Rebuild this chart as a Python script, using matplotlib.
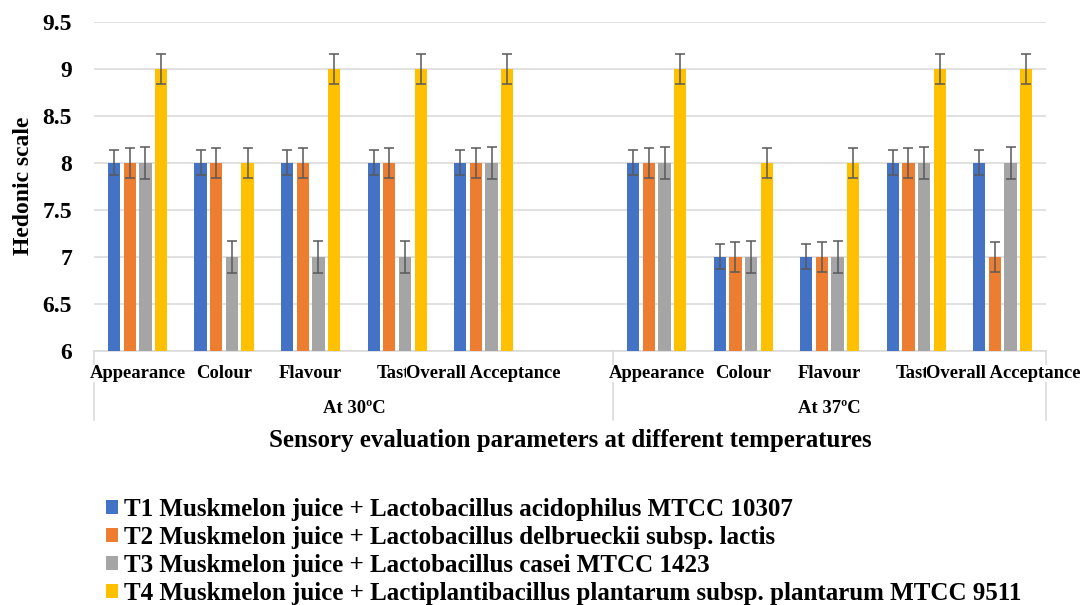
import numpy as np
import matplotlib
matplotlib.use("Agg")
import matplotlib.pyplot as plt
from matplotlib.patches import Patch

plt.rcParams['font.family'] = ['Liberation Serif', 'DejaVu Serif']
plt.rcParams['font.weight'] = 'bold'

# ---- data ----
categories = ["Appearance", "Colour", "Flavour", "Taste", "Overall Acceptance"]
temperatures = ["At 30ºC", "At 37ºC"]
series_names = [
    "T1 Muskmelon juice + Lactobacillus acidophilus MTCC 10307",
    "T2 Muskmelon juice + Lactobacillus delbrueckii subsp. lactis",
    "T3 Muskmelon juice + Lactobacillus casei MTCC 1423",
    "T4 Muskmelon juice + Lactiplantibacillus plantarum subsp. plantarum MTCC 9511",
]
# values: 30ºC (5 categories) followed by 37ºC (5 categories)
t1 = [8, 8, 8, 8, 8, 8, 7, 7, 8, 8]
t2 = [8, 8, 8, 8, 8, 8, 7, 7, 8, 7]
t3 = [8, 7, 7, 7, 8, 8, 7, 7, 8, 8]
t4 = [9, 8, 9, 9, 9, 9, 8, 8, 9, 9]
err = [0.13, 0.16, 0.17, 0.16]
yticks = [6, 6.5, 7, 7.5, 8, 8.5, 9, 9.5]
ytick_labels = ["6", "6.5", "7", "7.5", "8", "8.5", "9", "9.5"]

colors = ["#4472C4", "#ED7D31", "#A5A5A5", "#FFC000"]
grid_c = "#D9D9D9"

fig = plt.figure(figsize=(10.87, 6.05), dpi=100)
ax = fig.add_axes([0.0868, 0.4203, 0.8755, 0.5438])

# x positions: 30ºC group has 6 slots (last one empty), 37ºC group 5 slots
n_cat = len(categories)
xpos = np.concatenate([np.arange(n_cat), np.arange(n_cat) + n_cat + 1])

bw = 0.142
step = 0.181
all_series = [t1, t2, t3, t4]
for i, (vals, c) in enumerate(zip(all_series, colors)):
    off = (i - 1.5) * step
    vals = np.array(vals, dtype=float)
    ax.bar(xpos + off, vals - 6, bottom=6, width=bw, color=c, zorder=3,
           label=series_names[i])
    ax.errorbar(xpos + off, vals, yerr=err[i], fmt='none', ecolor="#595959",
                elinewidth=1.1, capsize=3.4, capthick=1.1, zorder=4)

ax.set_ylim(6, 9.5)
ax.set_xlim(-0.5, 2 * n_cat + 0.5)
ax.set_yticks(yticks)
ax.set_yticklabels(ytick_labels, fontsize=17, fontweight='bold')
ax.tick_params(axis='y', length=0, pad=16)
ax.set_xticks([])
ax.yaxis.grid(True, color=grid_c, linewidth=1.1, zorder=0)
ax.set_axisbelow(True)
for s in ["top", "right", "left"]:
    ax.spines[s].set_visible(False)
ax.spines["bottom"].set_color(grid_c)
ax.spines["bottom"].set_linewidth(1.1)

trans = ax.get_xaxis_transform()
# category labels (white background so later labels cover earlier ones)
for x, lab in zip(xpos, categories * 2):
    ax.text(x, -0.068, lab, transform=trans, ha='center', va='center',
            fontsize=13.4, fontweight='bold', clip_on=False,
            bbox=dict(facecolor='white', edgecolor='none', pad=0))
# group labels
group_centers = [(-0.5 + n_cat + 0.5) / 2, (n_cat + 0.5 + 2 * n_cat + 0.5) / 2]
for gx, gl in zip(group_centers, temperatures):
    ax.text(gx, -0.175, gl, transform=trans, ha='center', va='center',
            fontsize=13.4, fontweight='bold', clip_on=False)
# separators
for sx in [-0.5, n_cat + 0.5, 2 * n_cat + 0.5]:
    ax.plot([sx, sx], [0, -0.2106], transform=trans, color=grid_c,
            linewidth=1.1, clip_on=False)

fig.text(0.5244, 0.2727, "Sensory evaluation parameters at different temperatures",
         ha='center', va='center', fontsize=17.9, fontweight='bold')
fig.text(0.022, 0.693, "Hedonic scale", rotation=90, ha='center', va='center',
         fontsize=17, fontweight='bold')

handles = [Patch(facecolor=c, edgecolor='none') for c in colors]
fig.legend(handles, series_names, loc='upper left',
           bbox_to_anchor=(106 / 1087, 1 - 498 / 605), frameon=False,
           borderaxespad=0, borderpad=0, handlelength=0.48, handleheight=0.48,
           handletextpad=0.24, labelspacing=0.2,
           prop=dict(family=['Liberation Serif'], weight='bold', size=18))

fig.savefig("out.png", dpi=100, facecolor='white')
